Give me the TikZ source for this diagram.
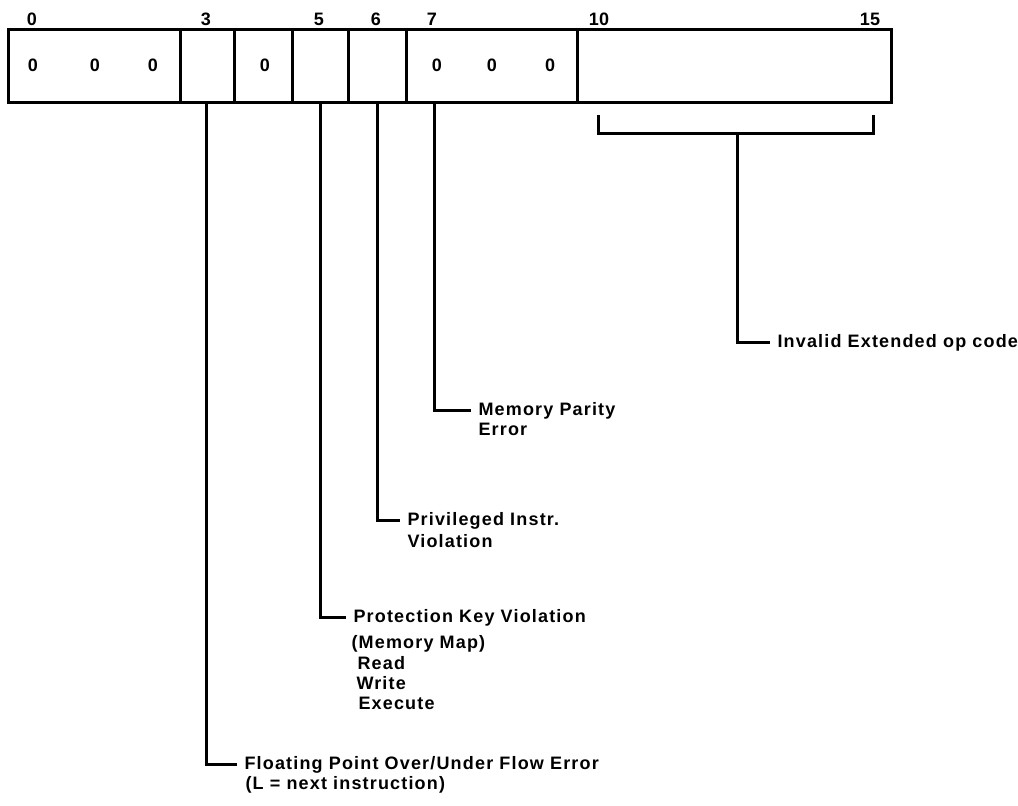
\documentclass[tikz,border=0pt]{standalone}
\usepackage{fontspec}
\setmainfont{Liberation Sans}
\newfontfamily\lblfont{Liberation Sans Bold}[LetterSpace=6.5]
\newfontfamily\numfont{Liberation Sans Bold}
\begin{document}
\begin{tikzpicture}[x=1pt,y=-1pt,line width=3pt,
  cell/.style={draw,rectangle,inner sep=0pt,minimum height=73pt},
  bitnum/.style={inner sep=0pt,anchor=base,font=\numfont\fontsize{18}{18}\selectfont},
  zero/.style={inner sep=0pt,font=\numfont\fontsize{18}{18}\selectfont},
  lbl/.style={anchor=base west,inner xsep=6pt,inner ysep=0pt,font=\lblfont\fontsize{18}{20}\selectfont},
  lead/.style={draw,line width=3pt}]
\useasboundingbox (0,0) rectangle (1018,806);
% register cells
\node[cell,minimum width=172pt] (c0)  at (94,65.5) {};
\node[cell,minimum width=54pt]  (c3)  at (207,65.5) {};
\node[cell,minimum width=58pt]  (c4)  at (263,65.5) {};
\node[cell,minimum width=56pt]  (c5)  at (320,65.5) {};
\node[cell,minimum width=58pt]  (c6)  at (377,65.5) {};
\node[cell,minimum width=171pt] (c7)  at (491.5,65.5) {};
\node[cell,minimum width=314pt] (c10) at (734,65.5) {};
% bit numbers
\node[bitnum] (n0)  at (32,25)  {0};
\node[bitnum] (n3)  at (206,25) {3};
\node[bitnum] (n5)  at (319,25) {5};
\node[bitnum] (n6)  at (376,25) {6};
\node[bitnum] (n7)  at (432,25) {7};
\node[bitnum] (n10) at (599,25) {10};
\node[bitnum] (n15) at (870,25) {15};
% zeros
\node[zero] (z1) at (33,65.5)  {0};
\node[zero] (z2) at (95,65.5)  {0};
\node[zero] (z3) at (153,65.5) {0};
\node[zero] (z4) at (265,65.5) {0};
\node[zero] (z5) at (437,65.5) {0};
\node[zero] (z6) at (492,65.5) {0};
\node[zero] (z7) at (550,65.5) {0};
% labels
\node[lbl] (inv) at (770,347) {Invalid Extended op code};
\node[lbl] (mp1) at (471,415) {Memory Parity};
\node[lbl] (mp2) at (471,435) {Error};
\node[lbl] (pi1) at (400,525) {Privileged Instr.};
\node[lbl] (pi2) at (400,547) {Violation};
\node[lbl] (pk1) at (346,622) {Protection Key Violation};
\node[lbl] (pk2) at (344,648) {(Memory Map)};
\node[lbl] (pk3) at (350,669) {Read};
\node[lbl] (pk4) at (349,689) {Write};
\node[lbl] (pk5) at (351,709) {Execute};
\node[lbl] (fp1) at (237,769) {Floating Point Over/Under Flow Error};
\node[lbl] (fp2) at (238,789) {(L = next instruction)};
% leader coordinates
\coordinate (b3) at (206,102);
\coordinate (b5) at (320,102);
\coordinate (b6) at (377,102);
\coordinate (b7) at (434,102);
\coordinate (brL) at (598,115);
\coordinate (brR) at (873,115);
\coordinate (brM) at (737,133);
% leaders
\draw[lead] (b3) |- (fp1.west);
\draw[lead] (b5) |- (pk1.west);
\draw[lead] (b6) |- (pi1.west);
\draw[lead] (b7) |- (mp1.west);
\draw[lead] (brL) |- (brM) -| (brR);
\draw[lead] (brM) |- (inv.west);
\end{tikzpicture}
\end{document}
